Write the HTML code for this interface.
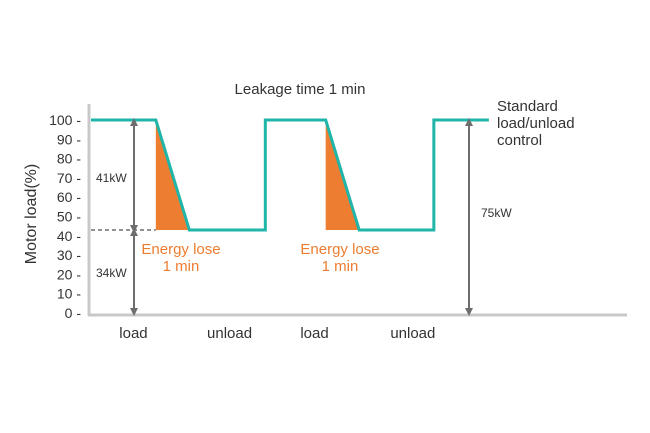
<!DOCTYPE html>
<html><head><meta charset="utf-8"><style>
body{margin:0;background:#fff;width:650px;height:428px;overflow:hidden}
svg{font-family:"Liberation Sans",sans-serif}
</style></head><body>
<svg id="c" width="650" height="428">
<defs><marker id="ah" markerWidth="8" markerHeight="8" refX="4" refY="4" orient="auto-start-reverse" markerUnits="userSpaceOnUse"><path d="M0,0 L8,4 L0,8 z" fill="#6d6d6d"/></marker></defs>
<text x="300" y="94" font-size="15" fill="#333" text-anchor="middle">Leakage time 1 min</text>
<g id="g"></g>
</svg>
<script>
const yTicks=[0,10,20,30,40,50,60,70,80,90,100];
const lineT=[0,1.45,2.2,3.9,3.9,5.25,6.0,7.67,7.67,8.9];
const lineV=[100,100,43,43,100,100,43,43,100,100];
const lossT=[[1.45,1.45,2.18],[5.25,5.25,5.98]];
const lossV=[[99,43,43],[99,43,43]];
const phaseLabels=["load","unload","load","unload"];
const phaseT=[0.95,3.1,5.0,7.2];
const unloadLevel=43;
const X=t=>91+t*44.7, Y=v=>313-v*1.93;
const g=document.getElementById('g'),NS='http://www.w3.org/2000/svg';
function mk(tag,a,txt){const e=document.createElementNS(NS,tag);for(const k in a)e.setAttribute(k,a[k]);if(txt!=null)e.textContent=txt;g.appendChild(e);return e;}
let e;
e=mk('line',{x1:89,y1:104,x2:89,y2:316,stroke:'#c8c8c8','stroke-width':3});


e=mk('line',{x1:88,y1:315,x2:627,y2:315,stroke:'#c8c8c8','stroke-width':3});


yTicks.forEach(v=>{e=mk('text',{x:81,y:Y(v)+5,'font-size':14,fill:'#333','text-anchor':'end'},v+' -');

});
e=mk('text',{x:0,y:0,'font-size':16,fill:'#333','text-anchor':'middle',transform:'translate(36,214) rotate(-90)'},'Motor load(%)');


lossT.forEach((ts,i)=>{e=mk('polygon',{points:ts.map((t,j)=>X(t)+','+Y(lossV[i][j])).join(' '),fill:'#ed7d31'});

});
e=mk('line',{x1:91,y1:Y(unloadLevel),x2:X(1.45),y2:Y(unloadLevel),stroke:'#6d6d6d','stroke-width':1.5,'stroke-dasharray':'4,3'});


e=mk('polyline',{points:lineT.map((t,i)=>X(t)+','+Y(lineV[i])).join(' '),fill:'none',stroke:'#1fb5a8','stroke-width':3});


[[134,100,unloadLevel],[134,unloadLevel,0],[469,100,0]].forEach(a=>{e=mk('line',{x1:a[0],y1:Y(a[1])+2,x2:a[0],y2:Y(a[2])-1,stroke:'#6d6d6d','stroke-width':2,'marker-start':'url(#ah)','marker-end':'url(#ah)'});

});
[['41kW',96,182],['34kW',96,277],['75kW',481,217]].forEach(a=>{e=mk('text',{x:a[1],y:a[2],'font-size':12,fill:'#333'},a[0]);

});
[181,340].forEach(cx=>{e=mk('text',{x:cx,y:254,'font-size':15,fill:'#ed7d31','text-anchor':'middle'},'Energy lose');


e=mk('text',{x:cx,y:271,'font-size':15,fill:'#ed7d31','text-anchor':'middle'},'1 min');

});
phaseLabels.forEach((l,i)=>{e=mk('text',{x:X(phaseT[i]),y:338,'font-size':15,fill:'#333','text-anchor':'middle'},l);

});
['Standard','load/unload','control'].forEach((s,i)=>{e=mk('text',{x:497,y:111+i*17,'font-size':15,fill:'#333'},s);

});
</script>
</body></html>
